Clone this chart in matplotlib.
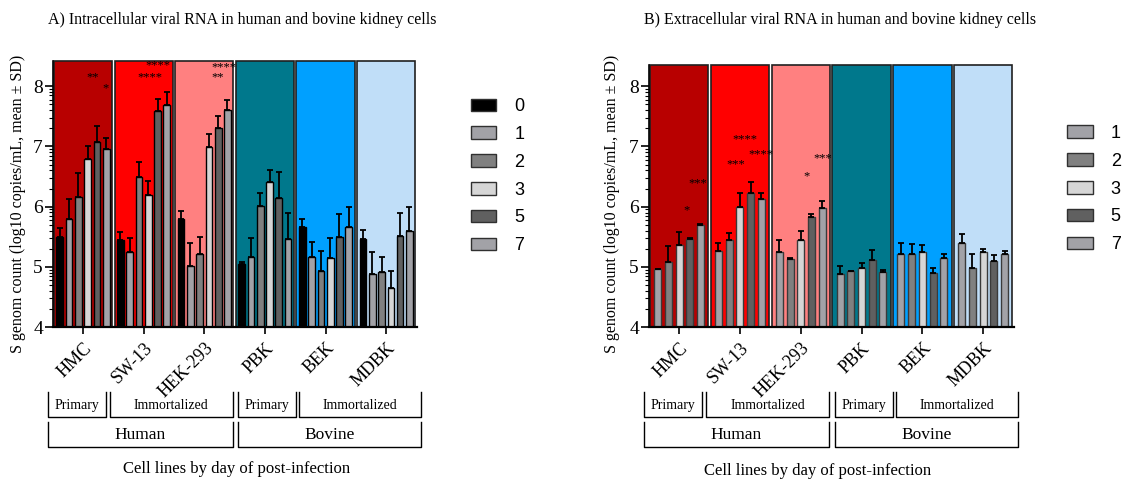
import numpy as np
import matplotlib
matplotlib.use("Agg")
import matplotlib.pyplot as plt
from matplotlib.patches import Patch
from matplotlib.ticker import FixedLocator

cells = ["HMC", "SW-13", "HEK-293", "PBK", "BEK", "MDBK"]
cell_colors = ["#B80000", "#FF0000", "#FF8080", "#00788C", "#00A0FF", "#C0DEF8"]

days_intra = ["0", "1", "2", "3", "5", "7"]
days_extra = ["1", "2", "3", "5", "7"]
day_colors = {"0": "#000000", "1": "#A2A2A7", "2": "#808080", "3": "#D6D6D6",
              "5": "#606060", "7": "#A2A2A7"}

# A) intracellular, log10 copies/mL, one row per cell line, one column per day
intra_mean = [
    [5.50, 5.80, 6.16, 6.79, 7.08, 6.95],
    [5.45, 5.24, 6.50, 6.20, 7.59, 7.69],
    [5.80, 5.02, 5.22, 6.99, 7.31, 7.61],
    [5.04, 5.16, 6.01, 6.41, 6.15, 5.46],
    [5.67, 5.16, 4.94, 5.15, 5.49, 5.66],
    [5.47, 4.89, 4.91, 4.65, 5.52, 5.60],
]
intra_sd = [
    [0.14, 0.32, 0.40, 0.21, 0.26, 0.19],
    [0.13, 0.24, 0.24, 0.23, 0.19, 0.21],
    [0.12, 0.38, 0.27, 0.21, 0.20, 0.16],
    [0.04, 0.32, 0.22, 0.20, 0.43, 0.43],
    [0.13, 0.25, 0.32, 0.33, 0.39, 0.34],
    [0.14, 0.36, 0.25, 0.28, 0.37, 0.40],
]

# B) extracellular
extra_mean = [
    [4.96, 5.09, 5.37, 5.47, 5.70],
    [5.27, 5.44, 5.99, 6.23, 6.13],
    [5.24, 5.13, 5.44, 5.83, 5.97],
    [4.88, 4.93, 4.98, 5.12, 4.92],
    [5.22, 5.21, 5.25, 4.90, 5.15],
    [5.39, 4.99, 5.24, 5.10, 5.22],
]
extra_sd = [
    [0.01, 0.26, 0.21, 0.01, 0.01],
    [0.12, 0.13, 0.24, 0.18, 0.09],
    [0.21, 0.01, 0.16, 0.05, 0.12],
    [0.13, 0.01, 0.08, 0.16, 0.03],
    [0.18, 0.17, 0.12, 0.09, 0.06],
    [0.15, 0.23, 0.05, 0.10, 0.04],
]

# significance marks: (x in group units, y value, text)
intra_stars = [(0.16, 8.15, "**"), (0.37, 7.97, "*"),
               (1.23, 8.34, "****"), (1.11, 8.15, "****"),
               (2.32, 8.32, "****"), (2.22, 8.15, "**")]
extra_stars = [(0.13, 5.94, "*"), (0.30, 6.39, "***"),
               (0.93, 6.71, "***"), (1.08, 7.12, "****"), (1.35, 6.87, "****"),
               (2.10, 6.51, "*"), (2.36, 6.80, "***")]

SERIF = "Liberation Serif"
SANS = "Liberation Sans"


def draw_panel(ax, means, sds, days, stars, bg_top, step, width, bar_edge):
    x = np.arange(len(cells))
    ax.bar(x, bg_top - 4, bottom=4, width=0.96, color=cell_colors,
           edgecolor="#202020", linewidth=1.2, zorder=0, clip_on=False)

    means = np.array(means)
    sds = np.array(sds)
    n = len(days)
    for k, day in enumerate(days):
        pos = x + (k - (n - 1) / 2) * step
        ax.bar(pos, means[:, k] - 4, bottom=4, width=width, color=day_colors[day],
               edgecolor=bar_edge, linewidth=1.0, zorder=2)
        ax.errorbar(pos, means[:, k], yerr=[np.zeros(len(cells)), sds[:, k]],
                    fmt="none", ecolor="black", elinewidth=1.3, capsize=2,
                    capthick=1.3, zorder=3)

    for sx, sy, txt in stars:
        ax.text(sx, sy, txt, ha="center", va="center", fontsize=9,
                family=SERIF, zorder=4)

    ax.set_xlim(-0.5, 5.5)
    ax.set_ylim(4, bg_top)
    ax.set_yticks([4, 5, 6, 7, 8])
    ax.yaxis.set_minor_locator(FixedLocator(
        [d + np.log10(k) for d in range(4, 8) for k in range(2, 10)]))
    ax.tick_params(axis="y", which="major", length=6, width=1.2, labelsize=14, pad=1)
    ax.tick_params(axis="y", which="minor", length=3, width=0.8)
    ax.set_xticks(x)
    ax.set_xticklabels(cells, rotation=45, ha="right", va="top",
                       rotation_mode="anchor", fontsize=13, family=SERIF)
    ax.tick_params(axis="x", length=5, width=1.2, pad=4)
    for lab in ax.get_yticklabels():
        lab.set_family(SERIF)
    ax.spines["top"].set_visible(False)
    ax.spines["right"].set_visible(False)
    ax.spines["left"].set_linewidth(1.2)
    ax.spines["bottom"].set_linewidth(1.6)

    # grouping brackets under the axis (y in axes fraction, scaled to the axis height)
    h = (bg_top - 4) / 4.5
    tr = ax.get_xaxis_transform()
    small = [(-0.58, 0.38, "Primary"), (0.445, 2.47, "Immortalized"),
             (2.56, 3.51, "Primary"), (3.56, 5.58, "Immortalized")]
    for x0, x1, label in small:
        ax.plot([x0, x0, x1, x1], [-0.24 / h, -0.332 / h, -0.332 / h, -0.24 / h],
                transform=tr, clip_on=False, color="black", lw=1.0)
        ax.text((x0 + x1) / 2, -0.29 / h, label, transform=tr, ha="center",
                va="center", fontsize=10, family=SERIF)
    big = [(-0.58, 2.47, "Human"), (2.56, 5.58, "Bovine")]
    for x0, x1, label in big:
        ax.plot([x0, x0, x1, x1], [-0.35 / h, -0.443 / h, -0.443 / h, -0.35 / h],
                transform=tr, clip_on=False, color="black", lw=1.0)
        ax.text((x0 + x1) / 2, -0.397 / h, label, transform=tr, ha="center",
                va="center", fontsize=12.5, family=SERIF)


fig = plt.figure(figsize=(11.23, 4.79), dpi=100)
ax_a = fig.add_axes([0.0469, 0.317, 0.324, 0.556])
ax_b = fig.add_axes([0.5776, 0.317, 0.325, 0.547])

draw_panel(ax_a, intra_mean, intra_sd, days_intra, intra_stars, 8.42,
           0.153, 0.11, "black")
draw_panel(ax_b, extra_mean, extra_sd, days_extra, extra_stars, 8.35,
           0.176, 0.115, "#3A3A3A")

ylab = "S genom count (log10 copies/mL, mean \u00b1 SD)"
fig.text(0.016, 0.575, ylab, rotation=90, ha="center", va="center",
         fontsize=11.5, family=SERIF)
fig.text(0.545, 0.575, ylab, rotation=90, ha="center", va="center",
         fontsize=11.5, family=SERIF)

fig.text(0.2157, 0.958, "A) Intracellular viral RNA in human and bovine kidney cells",
         ha="center", va="center", fontsize=11.5, family=SERIF)
fig.text(0.748, 0.958, "B) Extracellular viral RNA in human and bovine kidney cells",
         ha="center", va="center", fontsize=11.5, family=SERIF)

fig.text(0.211, 0.021, "Cell lines by day of post-infection", ha="center",
         va="center", fontsize=12, family=SERIF)
fig.text(0.728, 0.017, "Cell lines by day of post-infection", ha="center",
         va="center", fontsize=12, family=SERIF)

legend_kw = dict(loc="upper left", frameon=False, handlelength=1.4,
                 handleheight=0.7, handletextpad=1.0, labelspacing=0.6,
                 prop={"family": SANS, "size": 13})
handles_a = [Patch(facecolor=day_colors[d], edgecolor="#303030", lw=1.0) for d in days_intra]
fig.legend(handles_a, days_intra, bbox_to_anchor=(0.405, 0.829), **legend_kw)
handles_b = [Patch(facecolor=day_colors[d], edgecolor="#303030", lw=1.0) for d in days_extra]
fig.legend(handles_b, days_extra, bbox_to_anchor=(0.936, 0.773), **legend_kw)

fig.savefig("out.png", dpi=100)
